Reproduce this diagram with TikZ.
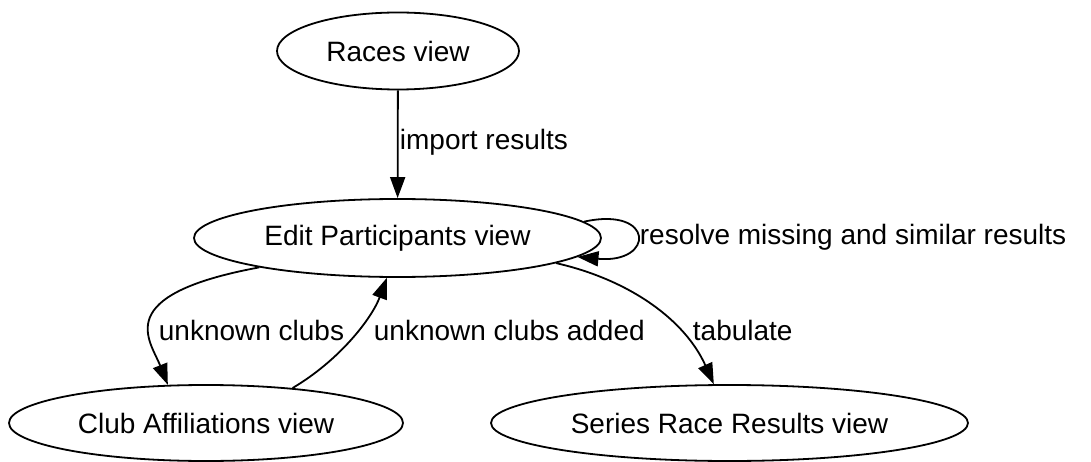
\documentclass[tikz,border=0pt]{standalone}
\usepackage{fontspec}
\setmainfont{Liberation Sans}
\usepackage{tikz}
\usetikzlibrary{shapes,arrows.meta}

\begin{document}
\begin{tikzpicture}[x=1pt, y=-1pt, line width=1.8pt, >={Triangle[length=21pt,width=15pt]},
  view node/.style={ellipse, draw, inner sep=0pt, font=\fontsize{28}{34}\selectfont},
  lbl/.style={anchor=west, inner sep=0pt, font=\fontsize{28}{34}\selectfont}]
\useasboundingbox (0,0) rectangle (1091,462);
\node[view node, minimum width=242pt, minimum height=77pt] (1) at (398,51) {Races view};
\node[view node, minimum width=407pt, minimum height=78pt] (2) at (397.5,238) {Edit Participants view};
\node[view node, minimum width=394pt, minimum height=76pt] (3) at (206,423) {Club Affiliations view};
\node[view node, minimum width=477pt, minimum height=76pt] (4) at (729.5,423) {Series Race Results view};
% labels
\node[lbl] (l1) at (399,142) {import results};
\node[lbl] (l2) at (639,237) {resolve missing and similar results};
\node[lbl] (l3) at (158,330) {unknown clubs};
\node[lbl] (l4) at (373,330) {unknown clubs added};
\node[lbl] (l5) at (692,330) {tabulate};
\draw[->] (1) -- (2);
\draw[->] (2.5) .. controls (655,206) and (655,264) .. (2.-6);
\draw[->] (2.-168) .. controls (110,295) and (150,340) .. (3.135);
\draw[->] (3.22) .. controls (340,360) and (372,318) .. (2.-105);
\draw[->] (2.-9) .. controls (630,280) and (685,320) .. (4.112);
\end{tikzpicture}
\end{document}
